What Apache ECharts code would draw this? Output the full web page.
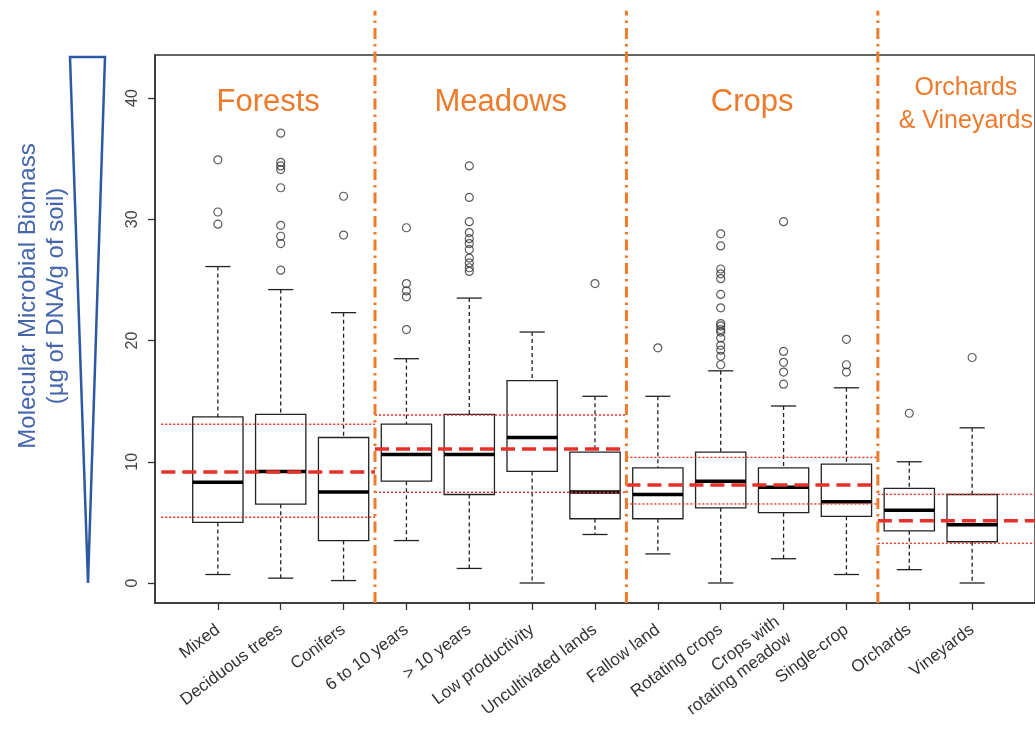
<!DOCTYPE html>
<html>
<head>
<meta charset="utf-8">
<script src="https://cdn.jsdelivr.net/npm/echarts@6/dist/echarts.min.js"></script>
<style>html,body{margin:0;padding:0;background:#fff;}#c{width:1035px;height:729px;}</style>
</head>
<body>
<div id="c"></div>
<script>
// ---------- data ----------
const categories = ['Mixed','Deciduous trees','Conifers','6 to 10 years','> 10 years','Low productivity','Uncultivated lands','Fallow land','Rotating crops','Crops with\nrotating meadow','Single-crop','Orchards','Vineyards'];
const whiskerLow  = [0.7, 0.4, 0.2, 3.5, 1.2, 0.0, 4.0, 2.4, 0.0, 2.0, 0.7, 1.1, 0.0];
const quartile1   = [5.0, 6.5, 3.5, 8.4, 7.3, 9.2, 5.3, 5.3, 6.2, 5.8, 5.5, 4.3, 3.4];
const medians     = [8.3, 9.2, 7.5, 10.6, 10.6, 12.0, 7.5, 7.3, 8.4, 7.9, 6.7, 6.0, 4.8];
const quartile3   = [13.7, 13.9, 12.0, 13.1, 13.9, 16.7, 10.8, 9.5, 10.8, 9.5, 9.8, 7.8, 7.3];
const whiskerHigh = [26.1, 24.2, 22.3, 18.5, 23.5, 20.7, 15.4, 15.4, 17.5, 14.6, 16.1, 10.0, 12.8];
const outliers = [
  [34.9, 30.6, 29.6],
  [37.1, 34.7, 34.4, 34.1, 32.6, 29.5, 28.6, 28.0, 25.8],
  [31.9, 28.7],
  [29.3, 24.7, 24.1, 23.6, 20.9],
  [34.4, 31.8, 29.8, 28.9, 28.4, 28.0, 27.5, 26.8, 26.4, 26.0, 25.7],
  [],
  [24.7],
  [19.4],
  [28.8, 27.8, 25.9, 25.5, 25.1, 23.8, 22.7, 21.4, 21.2, 20.9, 20.7, 20.2, 19.6, 19.2, 18.7, 18.0],
  [29.8, 19.1, 18.2, 17.4, 16.4],
  [20.1, 18.0, 17.4],
  [14.0],
  [18.6]
];
const groupNames = ['Forests', 'Meadows', 'Crops', 'Orchards\n& Vineyards'];
const groupStart = [0.1, 3.5, 7.5, 11.5];
const groupEnd   = [3.5, 7.5, 11.5, 14.3];
const groupMean  = [9.15, 11.05, 8.08, 5.14];
const groupLow   = [5.42, 7.48, 6.52, 3.27];
const groupHigh  = [13.09, 13.86, 10.36, 7.31];
const separators = [3.5, 7.5, 11.5];
const yTicks = [0, 10, 20, 30, 40];

// ---------- build ----------
const positions = categories.map((_, i) => i + 1);
const boxData = categories.map((_, i) => [i + 1, whiskerLow[i], quartile1[i], medians[i], quartile3[i], whiskerHigh[i]]);
const outlierData = [];
outliers.forEach((arr, i) => arr.forEach(v => outlierData.push([i + 1, v])));
const groupData = groupNames.map((n, i) => [groupStart[i], groupEnd[i], groupMean[i], groupLow[i], groupHigh[i]]);

const ORANGE = '#ee7a2c';
const RED = '#e8302a';
const FONT = 'Liberation Sans, Arial, sans-serif';

function renderBox(params, api) {
  const x = api.value(0);
  const lo = api.value(1), q1 = api.value(2), md = api.value(3), q3 = api.value(4), hi = api.value(5);
  const c = (dx, v) => api.coord([x + dx, v]);
  const line = (p1, p2, style) => ({ type: 'line', shape: { x1: p1[0], y1: p1[1], x2: p2[0], y2: p2[1] }, style: style });
  const wStyle = { stroke: '#222', lineWidth: 1.3, lineDash: [4, 3] };
  const cStyle = { stroke: '#222', lineWidth: 1.3 };
  const tl = c(-0.4, q3), br = c(0.4, q1);
  return {
    type: 'group',
    children: [
      line(c(0, hi), c(0, q3), wStyle),
      line(c(0, q1), c(0, lo), wStyle),
      line(c(-0.2, hi), c(0.2, hi), cStyle),
      line(c(-0.2, lo), c(0.2, lo), cStyle),
      { type: 'rect', shape: { x: tl[0], y: tl[1], width: br[0] - tl[0], height: br[1] - tl[1] }, style: { fill: 'rgba(255,255,255,0)', stroke: '#222', lineWidth: 1.3 } },
      line(c(-0.4, md), c(0.4, md), { stroke: '#000', lineWidth: 3.5 })
    ]
  };
}

function renderGroup(params, api) {
  const s = api.value(0), e = api.value(1), m = api.value(2), l = api.value(3), h = api.value(4);
  const line = (v, style) => {
    const p1 = api.coord([s, v]), p2 = api.coord([e, v]);
    return { type: 'line', shape: { x1: p1[0], y1: p1[1], x2: p2[0], y2: p2[1] }, style: style };
  };
  const dot = { stroke: RED, lineWidth: 1.4, lineDash: [2, 2] };
  return {
    type: 'group',
    children: [
      line(h, dot),
      line(l, dot),
      line(m, { stroke: RED, lineWidth: 3.5, lineDash: [14, 7] })
    ]
  };
}

function renderSep(params, api) {
  const x = api.value(0);
  const b = api.coord([x, -1.65]);
  const t = api.coord([x, 47.2]);
  return { type: 'line', shape: { x1: b[0], y1: b[1], x2: t[0], y2: t[1] }, style: { stroke: ORANGE, lineWidth: 3, lineDash: [11, 5, 2.5, 5] } };
}

function renderTitle(params, api) {
  const i = params.dataIndex;
  const s = api.value(0), e = api.value(1);
  const multi = groupNames[i].indexOf('\n') >= 0;
  const p = api.coord([(s + e) / 2, multi ? 39.45 : 39.6]);
  return {
    type: 'text',
    x: p[0], y: p[1],
    style: {
      text: groupNames[i], fill: ORANGE, align: 'center', verticalAlign: 'middle',
      fontFamily: FONT,
      fontSize: multi ? 25 : 31, lineHeight: multi ? 33 : 36
    }
  };
}

const chart = echarts.init(document.getElementById('c'), null, { renderer: 'canvas' });
chart.setOption({
  animation: false,
  backgroundColor: '#fff',
  textStyle: { fontFamily: FONT },
  grid: { left: 155, top: 55, width: 884.8, height: 548, show: true, borderColor: '#333', borderWidth: 1.5, backgroundColor: 'transparent' },
  xAxis: {
    type: 'value', min: 0, max: 14,
    axisLine: { show: true, onZero: false, lineStyle: { color: '#333', width: 1.5 } },
    axisTick: { show: true, customValues: positions, length: 7, lineStyle: { color: '#333', width: 1.3 } },
    axisLabel: { show: true, customValues: positions, formatter: v => categories[Math.round(v) - 1] || '', rotate: 37, fontSize: 17, color: '#333', margin: 25, lineHeight: 20 },
    splitLine: { show: false }
  },
  yAxis: {
    type: 'value', min: -1.65, max: 43.55,
    axisLine: { show: true, onZero: false, lineStyle: { color: '#333', width: 1.5 } },
    axisTick: { show: true, customValues: yTicks, length: 7, lineStyle: { color: '#333', width: 1.3 } },
    axisLabel: { show: true, customValues: yTicks, rotate: 90, fontSize: 16, color: '#444', margin: 14 },
    splitLine: { show: false }
  },
  graphic: [
    { type: 'polygon', shape: { points: [[70, 57], [105, 57], [88, 583]] }, style: { fill: 'none', stroke: '#2d58a3', lineWidth: 2.5 } },
    { type: 'text', x: 42, y: 296, rotation: Math.PI / 2,
      style: { text: 'Molecular Microbial Biomass\n(µg of DNA/g of soil)', fill: '#4466ad', align: 'center', verticalAlign: 'middle', fontSize: 24, lineHeight: 28, fontFamily: FONT } }
  ],
  series: [
    { type: 'custom', name: 'boxes', renderItem: renderBox, data: boxData, encode: { x: 0, y: [1, 2, 3, 4, 5] }, z: 2 },
    { type: 'scatter', name: 'outliers', data: outlierData, symbol: 'circle', symbolSize: 8,
      itemStyle: { color: 'rgba(0,0,0,0)', borderColor: '#333', borderWidth: 1.2 }, z: 3 },
    { type: 'custom', name: 'groups', renderItem: renderGroup, data: groupData, encode: { x: [0, 1], y: [2, 3, 4] }, z: 4 },
    { type: 'custom', name: 'separators', renderItem: renderSep, data: separators.map(s => [s]), encode: { x: 0 }, clip: false, z: 5 },
    { type: 'custom', name: 'titles', renderItem: renderTitle, data: groupData, encode: { x: [0, 1] }, clip: false, z: 5 }
  ]
});
</script>
</body>
</html>
